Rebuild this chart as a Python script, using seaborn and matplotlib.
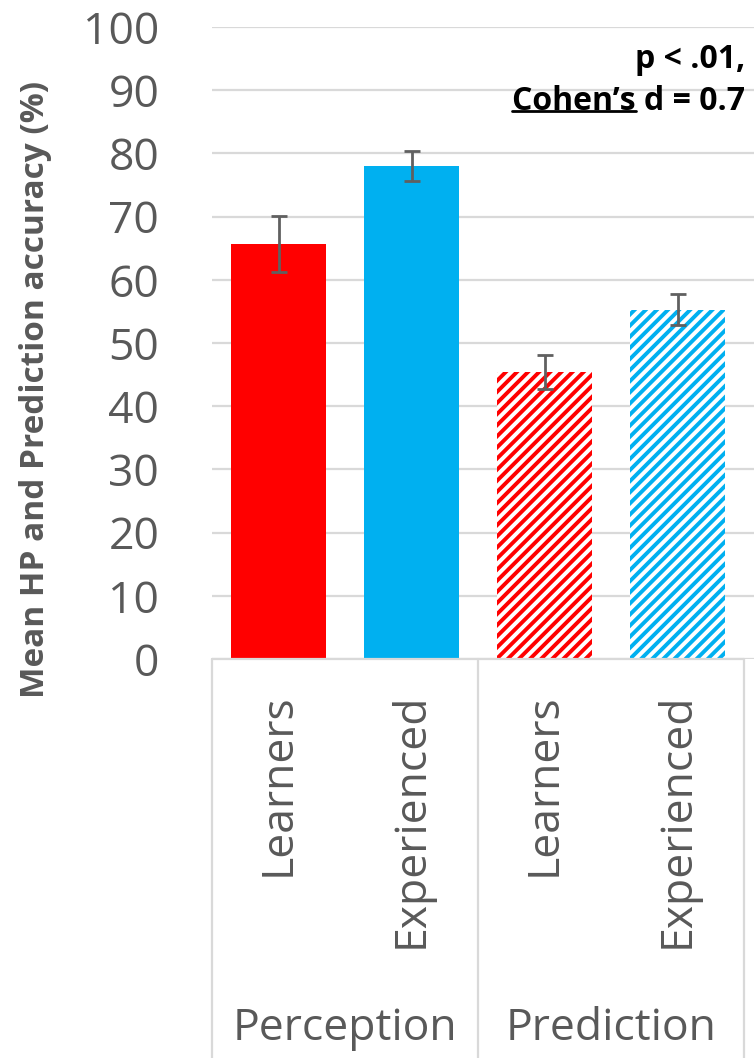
import matplotlib
matplotlib.use("Agg")
import matplotlib.pyplot as plt
import matplotlib.transforms as mtransforms
from matplotlib.lines import Line2D
import seaborn as sns
import pandas as pd
import numpy as np

# ---- data ----
groups = ["Perception", "Perception", "Prediction", "Prediction"]
subgroups = ["Learners", "Experienced", "Learners", "Experienced"]
means = [65.7, 78.0, 45.4, 55.3]
errors = [4.4, 2.4, 2.7, 2.4]
yticks = [0, 10, 20, 30, 40, 50, 60, 70, 80, 90, 100]
ylabel = "Mean HP and Prediction accuracy (%)"
annot_line1 = "p < .01,"
annot_under = "Cohen\u2019s"
annot_rest = " d = 0.7"

RED = "#FF0000"
BLUE = "#00B0F0"
colors = [RED, BLUE, RED, BLUE]
hatched = [False, False, True, True]
TXT = "#595959"
GRID = "#D9D9D9"

sns.set_theme(style="white")
plt.rcParams["font.family"] = ["Open Sans", "DejaVu Sans"]
plt.rcParams["hatch.linewidth"] = 2.8

df = pd.DataFrame({
    "bar": [f"{g}|{s}" for g, s in zip(groups, subgroups)],
    "value": means,
})

W, H = 754, 1058
fig = plt.figure(figsize=(W / 100, H / 100), dpi=100)
ax_left, ax_right, ax_top, ax_bottom = 212, 754, 27, 659
ax = fig.add_axes([ax_left / W, 1 - ax_bottom / H, (ax_right - ax_left) / W, (ax_bottom - ax_top) / H])

sns.barplot(data=df, x="bar", y="value", hue="bar", palette=colors, legend=False,
            width=0.72, ax=ax, errorbar=None, saturation=1)

for i, p in enumerate(ax.patches):
    if hatched[i]:
        p.set_facecolor("white")
        p.set_edgecolor(colors[i])
        p.set_hatch("///")
        p.set_linewidth(0)
    else:
        p.set_linewidth(0)

xs = np.arange(len(means))
ax.errorbar(xs, means, yerr=errors, fmt="none", ecolor="#606060", elinewidth=2,
            capsize=6, capthick=2, zorder=5)

ax.set_ylim(0, 100)
ax.set_xlim(-0.5, 3.575)
ax.set_yticks(yticks)
ax.set_yticklabels([str(v) for v in yticks], fontsize=32, color=TXT)
ax.tick_params(axis="y", length=0, pad=38)
ax.set_xticks([])
ax.set_xlabel("")
ax.set_ylabel("")
for s in ax.spines.values():
    s.set_visible(False)
ax.yaxis.grid(True, color=GRID, linewidth=1.6)
ax.set_axisbelow(True)

# category box below axis
trans = mtransforms.blended_transform_factory(ax.transData, ax.transAxes)
ybot = -(H - ax_bottom) / (ax_bottom - ax_top)
ax.plot([-0.5, 3.5], [0, 0], transform=trans, color=GRID, lw=1.6, clip_on=False, zorder=1)
for xv in [-0.5, 1.5, 3.5]:
    ax.plot([xv, xv], [0, ybot], transform=trans, color=GRID, lw=1.6, clip_on=False)

px = 1.0 / (ax_bottom - ax_top)
for i, s in enumerate(subgroups):
    ax.text(i, -34 * px, s, transform=trans, rotation=90, ha="center", va="top",
            fontsize=32, color=TXT)
for gi, g in enumerate(["Perception", "Prediction"]):
    ax.text(gi * 2 + 0.5, -(1029 - ax_bottom) * px, g, transform=trans, ha="center",
            va="center", fontsize=32, color=TXT)

fig.text(36 / W, 1 - 389 / H, ylabel, rotation=90, ha="center", va="center",
         fontsize=24, fontweight="bold", color=TXT)

# annotation
xr = 745 / W
fs_ann = 23
fig.text(xr, 1 - 60 / H, annot_line1, ha="right", va="center", fontsize=fs_ann,
         fontweight="bold", color="black")
t2 = fig.text(xr, 1 - 101 / H, annot_under + annot_rest, ha="right", va="center",
              fontsize=fs_ann, fontweight="bold", color="black")
fig.canvas.draw()
r = fig.canvas.get_renderer()
bb = t2.get_window_extent(r)
tmp = fig.text(0, 0, annot_under, fontsize=fs_ann, fontweight="bold")
wu = tmp.get_window_extent(r).width
tmp.remove()
yl = bb.y0 + 0.2 * bb.height
fig.add_artist(Line2D([bb.x0 / W, (bb.x0 + wu) / W], [yl / H, yl / H],
                      color="black", lw=2, transform=fig.transFigure))

fig.savefig("out.png", dpi=100)
